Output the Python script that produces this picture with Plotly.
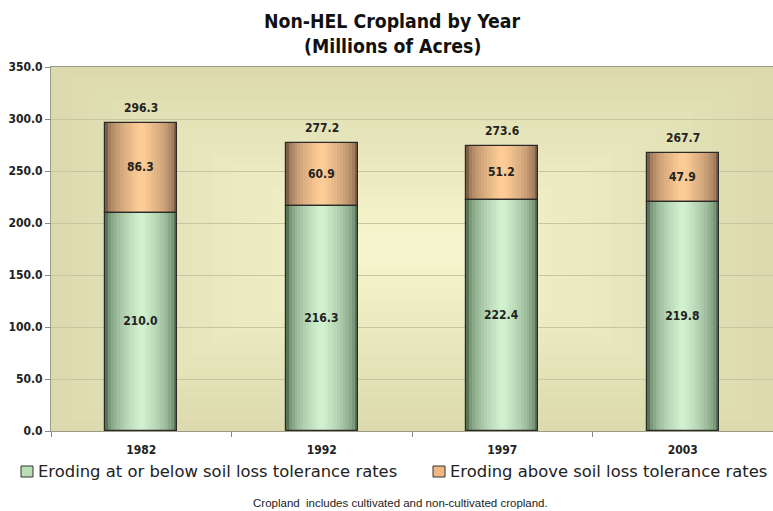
import plotly.graph_objects as go

years = ["1982", "1992", "1997", "2003"]
below_tol = [210.0, 216.3, 222.4, 219.8]
above_tol = [86.3, 60.9, 51.2, 47.9]
totals = [296.3, 277.2, 273.6, 267.7]
series_names = ["Eroding at or below soil loss tolerance rates",
                "Eroding above soil loss tolerance rates"]
y_ticks = [0, 50, 100, 150, 200, 250, 300, 350]

W, H = 773, 511
ML, MR, MT, MB = 51, 0, 67, 80
PW, PH = W - ML - MR, H - MT - MB


def px(x):
    return (x - ML) / PW


def py(y):
    return (H - MB - y) / PH


BAR_W = 0.4
N_LAYERS = 12
FONT = "DejaVu Sans Condensed"


def lerp(c1, c2, t):
    return "rgb(%d,%d,%d)" % tuple(round(a + (b - a) * t) for a, b in zip(c1, c2))


green_dark, green_light = (86, 116, 86), (208, 240, 206)
orange_dark, orange_light = (126, 94, 70), (253, 203, 150)

fig = go.Figure()

for values, bases, dark, light in [
    (below_tol, [0] * len(years), green_dark, green_light),
    (above_tol, below_tol, orange_dark, orange_light),
]:
    for i in range(N_LAYERS):
        t = i / (N_LAYERS - 1)
        w = BAR_W * (1 - 0.9 * t)
        col = lerp(dark, light, (t ** 0.5))
        fig.add_trace(go.Bar(
            x=years, y=values, base=bases, width=w,
            marker=dict(color=col, line=dict(width=0)),
            showlegend=False, hoverinfo="skip",
        ))

for values, bases in [(below_tol, [0] * len(years)), (above_tol, below_tol)]:
    fig.add_trace(go.Bar(
        x=years, y=values, base=bases, width=BAR_W,
        marker=dict(color="rgba(0,0,0,0)", line=dict(color="#2a2a2a", width=1.2)),
        text=["%.1f" % v for v in values], textposition="inside",
        insidetextanchor="middle",
        textfont=dict(family=FONT, size=12, color="#222222", weight="bold"),
        showlegend=False, hoverinfo="skip",
    ))

annotations = []
for i, tot in enumerate(totals):
    annotations.append(dict(
        x=i, y=tot, xref="x", yref="y", text="%.1f" % tot, showarrow=False,
        yanchor="bottom", yshift=6,
        font=dict(family=FONT, size=12, color="#222222", weight="bold"),
    ))

# title
annotations.append(dict(text="Non-HEL Cropland by Year", xref="paper", yref="paper",
                        x=px(392), y=py(21), xanchor="center", yanchor="middle", showarrow=False,
                        font=dict(family=FONT, size=19.3, color="#111111", weight="bold")))
annotations.append(dict(text="(Millions of Acres)", xref="paper", yref="paper",
                        x=px(392), y=py(47), xanchor="center", yanchor="middle", showarrow=False,
                        font=dict(family=FONT, size=19.3, color="#111111", weight="bold")))

# legend (manual)
shapes = []
legend_items = [(series_names[0], 21, 36, "rgb(184,222,180)"),
                (series_names[1], 433, 448, "rgb(240,184,128)")]
for name, sx, tx, col in legend_items:
    shapes.append(dict(type="rect", xref="paper", yref="paper",
                       x0=px(sx), x1=px(sx + 12), y0=py(477), y1=py(466),
                       fillcolor=col, line=dict(color="#333333", width=1), layer="above"))
    annotations.append(dict(text=name, xref="paper", yref="paper", x=px(tx), y=py(471),
                            xanchor="left", yanchor="middle", showarrow=False,
                            font=dict(family="DejaVu Sans", size=16.4, color="#222222")))

annotations.append(dict(
    text="Cropland  includes cultivated and non-cultivated cropland.",
    xref="paper", yref="paper", x=px(400), y=py(503), xanchor="center", yanchor="middle",
    showarrow=False,
    font=dict(family="Liberation Sans Narrow, Liberation Sans", size=11.5, color="#222222"),
))

# plot background gradient
edge, center = (220, 218, 174), (246, 244, 204)
NS = 16
for k in range(NS):
    t = k / (NS - 1)
    shapes.append(dict(
        type="rect", xref="x domain", yref="y domain",
        x0=0.028 * k, x1=1 - 0.028 * k, y0=0.03 * k, y1=1 - 0.03 * k,
        fillcolor=lerp(edge, center, t), line=dict(width=0), layer="below",
    ))

fig.update_layout(
    width=W, height=H,
    margin=dict(l=ML, r=MR, t=MT, b=MB),
    paper_bgcolor="white",
    plot_bgcolor="rgb(220,218,174)",
    barmode="overlay",
    bargap=0,
    showlegend=False,
    shapes=shapes,
    annotations=annotations,
    font=dict(family=FONT, color="#222222"),
)

fig.update_xaxes(
    type="category", range=[-0.5, 3.5], automargin=False,
    tickson="boundaries", ticks="outside", ticklen=5, tickcolor="#888888",
    ticklabelstandoff=8,
    showline=True, linecolor="#9a9a88", linewidth=1, mirror=True,
    tickfont=dict(family=FONT, size=12, color="#222222", weight="bold"),
    showgrid=False,
)
fig.update_yaxes(
    range=[0, 350], automargin=False,
    tickvals=y_ticks, ticktext=["%.1f" % v for v in y_ticks],
    ticks="outside", ticklen=5, tickcolor="#888888",
    showline=True, linecolor="#9a9a88", linewidth=1, mirror=True,
    showgrid=True, gridcolor="rgb(200,198,160)", gridwidth=1,
    tickfont=dict(family=FONT, size=12, color="#222222", weight="bold"),
    zeroline=False,
)

fig.write_html("out.html", config={"displayModeBar": False},
               post_script="document.body.style.margin='0px';")
